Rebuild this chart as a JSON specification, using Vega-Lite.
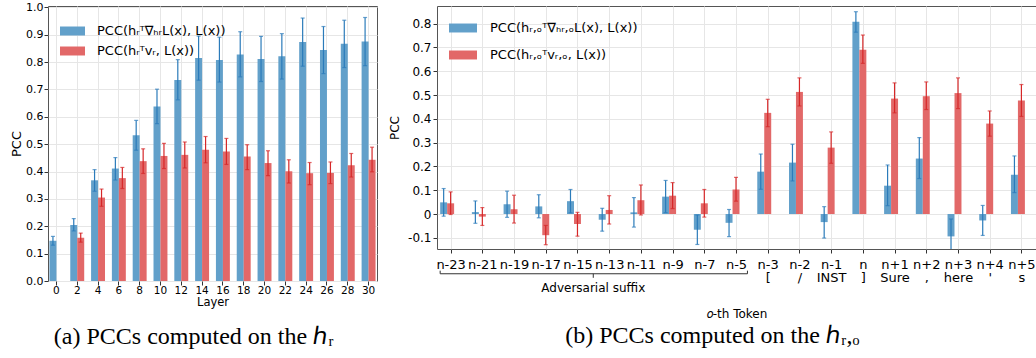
{
  "$schema": "https://vega.github.io/schema/vega-lite/v6.json",
  "padding": {"left": 10, "top": 0, "right": 0, "bottom": 0},
  "bounds": "flush",
  "spacing": 60,
  "datasets": {
    "left": [
      {"layer": 0, "series": "grad", "value": 0.147, "lo": 0.131, "hi": 0.163},
      {"layer": 2, "series": "grad", "value": 0.205, "lo": 0.183, "hi": 0.228},
      {"layer": 4, "series": "grad", "value": 0.368, "lo": 0.328, "hi": 0.407},
      {"layer": 6, "series": "grad", "value": 0.411, "lo": 0.369, "hi": 0.451},
      {"layer": 8, "series": "grad", "value": 0.533, "lo": 0.478, "hi": 0.587},
      {"layer": 10, "series": "grad", "value": 0.638, "lo": 0.575, "hi": 0.701},
      {"layer": 12, "series": "grad", "value": 0.735, "lo": 0.662, "hi": 0.809},
      {"layer": 14, "series": "grad", "value": 0.815, "lo": 0.734, "hi": 0.895},
      {"layer": 16, "series": "grad", "value": 0.808, "lo": 0.727, "hi": 0.891},
      {"layer": 18, "series": "grad", "value": 0.828, "lo": 0.746, "hi": 0.911},
      {"layer": 20, "series": "grad", "value": 0.811, "lo": 0.729, "hi": 0.894},
      {"layer": 22, "series": "grad", "value": 0.821, "lo": 0.738, "hi": 0.904},
      {"layer": 24, "series": "grad", "value": 0.873, "lo": 0.785, "hi": 0.961},
      {"layer": 26, "series": "grad", "value": 0.844, "lo": 0.758, "hi": 0.930},
      {"layer": 28, "series": "grad", "value": 0.867, "lo": 0.780, "hi": 0.953},
      {"layer": 30, "series": "grad", "value": 0.875, "lo": 0.787, "hi": 0.963},
      {"layer": 2, "series": "v", "value": 0.158, "lo": 0.142, "hi": 0.175},
      {"layer": 4, "series": "v", "value": 0.305, "lo": 0.273, "hi": 0.336},
      {"layer": 6, "series": "v", "value": 0.376, "lo": 0.338, "hi": 0.415},
      {"layer": 8, "series": "v", "value": 0.438, "lo": 0.393, "hi": 0.483},
      {"layer": 10, "series": "v", "value": 0.457, "lo": 0.411, "hi": 0.503},
      {"layer": 12, "series": "v", "value": 0.461, "lo": 0.413, "hi": 0.508},
      {"layer": 14, "series": "v", "value": 0.480, "lo": 0.432, "hi": 0.528},
      {"layer": 16, "series": "v", "value": 0.473, "lo": 0.426, "hi": 0.521},
      {"layer": 18, "series": "v", "value": 0.455, "lo": 0.407, "hi": 0.498},
      {"layer": 20, "series": "v", "value": 0.431, "lo": 0.385, "hi": 0.476},
      {"layer": 22, "series": "v", "value": 0.401, "lo": 0.358, "hi": 0.443},
      {"layer": 24, "series": "v", "value": 0.394, "lo": 0.352, "hi": 0.433},
      {"layer": 26, "series": "v", "value": 0.395, "lo": 0.356, "hi": 0.435},
      {"layer": 28, "series": "v", "value": 0.423, "lo": 0.380, "hi": 0.466},
      {"layer": 30, "series": "v", "value": 0.443, "lo": 0.399, "hi": 0.489}
    ],
    "right": [
      {"token": "n-23", "series": "grad", "value": 0.049, "lo": -0.009, "hi": 0.107},
      {"token": "n-21", "series": "grad", "value": 0.008, "lo": -0.039, "hi": 0.055},
      {"token": "n-19", "series": "grad", "value": 0.041, "lo": -0.014, "hi": 0.096},
      {"token": "n-17", "series": "grad", "value": 0.032, "lo": -0.016, "hi": 0.081},
      {"token": "n-15", "series": "grad", "value": 0.054, "lo": 0.005, "hi": 0.103},
      {"token": "n-13", "series": "grad", "value": -0.024, "lo": -0.072, "hi": 0.024},
      {"token": "n-11", "series": "grad", "value": 0.007, "lo": -0.055, "hi": 0.069},
      {"token": "n-9", "series": "grad", "value": 0.073, "lo": 0.006, "hi": 0.141},
      {"token": "n-7", "series": "grad", "value": -0.066, "lo": -0.128, "hi": -0.004},
      {"token": "n-5", "series": "grad", "value": -0.037, "lo": -0.095, "hi": 0.019},
      {"token": "n-3 [", "series": "grad", "value": 0.178, "lo": 0.104, "hi": 0.252},
      {"token": "n-2 /", "series": "grad", "value": 0.216, "lo": 0.139, "hi": 0.293},
      {"token": "n-1 INST", "series": "grad", "value": -0.034, "lo": -0.101, "hi": 0.031},
      {"token": "n ]", "series": "grad", "value": 0.808, "lo": 0.764, "hi": 0.850},
      {"token": "n+1 Sure", "series": "grad", "value": 0.119, "lo": 0.035, "hi": 0.206},
      {"token": "n+2 ,", "series": "grad", "value": 0.233, "lo": 0.149, "hi": 0.321},
      {"token": "n+3 here", "series": "grad", "value": -0.094, "lo": -0.167, "hi": -0.021},
      {"token": "n+4 '", "series": "grad", "value": -0.027, "lo": -0.090, "hi": 0.036},
      {"token": "n+5 s", "series": "grad", "value": 0.165, "lo": 0.090, "hi": 0.244},
      {"token": "n-23", "series": "v", "value": 0.045, "lo": -0.002, "hi": 0.093},
      {"token": "n-21", "series": "v", "value": -0.011, "lo": -0.048, "hi": 0.027},
      {"token": "n-19", "series": "v", "value": 0.020, "lo": -0.038, "hi": 0.079},
      {"token": "n-17", "series": "v", "value": -0.089, "lo": -0.129, "hi": -0.048},
      {"token": "n-15", "series": "v", "value": -0.042, "lo": -0.093, "hi": 0.007},
      {"token": "n-13", "series": "v", "value": 0.017, "lo": -0.042, "hi": 0.077},
      {"token": "n-11", "series": "v", "value": 0.058, "lo": -0.004, "hi": 0.122},
      {"token": "n-9", "series": "v", "value": 0.077, "lo": 0.023, "hi": 0.132},
      {"token": "n-7", "series": "v", "value": 0.045, "lo": -0.013, "hi": 0.103},
      {"token": "n-5", "series": "v", "value": 0.103, "lo": 0.054, "hi": 0.154},
      {"token": "n-3 [", "series": "v", "value": 0.425, "lo": 0.367, "hi": 0.482},
      {"token": "n-2 /", "series": "v", "value": 0.513, "lo": 0.454, "hi": 0.572},
      {"token": "n-1 INST", "series": "v", "value": 0.279, "lo": 0.213, "hi": 0.345},
      {"token": "n ]", "series": "v", "value": 0.690, "lo": 0.633, "hi": 0.752},
      {"token": "n+1 Sure", "series": "v", "value": 0.485, "lo": 0.425, "hi": 0.551},
      {"token": "n+2 ,", "series": "v", "value": 0.495, "lo": 0.439, "hi": 0.555},
      {"token": "n+3 here", "series": "v", "value": 0.508, "lo": 0.443, "hi": 0.572},
      {"token": "n+4 '", "series": "v", "value": 0.380, "lo": 0.327, "hi": 0.433},
      {"token": "n+5 s", "series": "v", "value": 0.477, "lo": 0.410, "hi": 0.544}
    ],
    "groups": [
      {"start": "n-23", "end": "n-5", "mid": "n-15", "name": "Adversarial suffix"}
    ]
  },
  "hconcat": [
    {
      "width": 329,
      "height": 275,
      "data": {"name": "left"},
      "title": {"text": "(a) PCCs computed on the ℎᵣ", "orient": "bottom", "anchor": "middle", "frame": "bounds", "font": "Liberation Serif", "fontSize": 24, "fontWeight": "normal", "color": "#000", "offset": 17},
      "layer": [
        {
          "mark": {"type": "bar"},
          "encoding": {
            "x": {"field": "layer", "type": "ordinal", "title": "Layer",
                  "scale": {"paddingInner": 0.33, "paddingOuter": 0.07},
                  "axis": {"labelAngle": 0, "labelFontSize": 10.5, "labelPadding": 0, "labelOverlap": false, "tickSize": 4, "grid": true, "bandPosition": 0.5, "titleFontSize": 11.5, "titlePadding": 1}},
            "xOffset": {"field": "series", "type": "nominal", "scale": {"domain": ["grad", "v"], "paddingInner": 0, "paddingOuter": 0}},
            "y": {"field": "value", "type": "quantitative", "title": "PCC",
                  "scale": {"domain": [0, 1.005], "nice": false},
                  "axis": {"values": [0, 0.1, 0.2, 0.3, 0.4, 0.5, 0.6, 0.7, 0.8, 0.9, 1.0], "tickCount": 30, "format": ".1f", "labelOverlap": false, "labelFontSize": 11, "labelPadding": 1, "tickSize": 4, "grid": true, "titleFontSize": 13, "titlePadding": 2}},
            "color": {"field": "series", "type": "nominal",
                      "scale": {"domain": ["grad", "v"], "range": ["#62a0ca", "#e26868"]},
                      "legend": {"orient": "none", "legendX": 12, "legendY": 12.5, "title": null,
                                 "symbolType": "M-1,-0.36H1V0.36H-1Z", "symbolSize": 625, "symbolStrokeWidth": 0,
                                 "labelFontSize": 13, "labelOffset": 12, "rowPadding": -5.5, "labelLimit": 400,
                                 "labelExpr": "datum.value == 'grad' ? 'PCC(hᵣᵀ∇ₕᵣL(x), L(x))' : 'PCC(hᵣᵀvᵣ, L(x))'"}}
          }
        },
        {
          "mark": {"type": "rule", "strokeWidth": 1.2},
          "encoding": {
            "x": {"field": "layer", "type": "ordinal"},
            "xOffset": {"field": "series", "type": "nominal"},
            "y": {"field": "lo", "type": "quantitative"},
            "y2": {"field": "hi"},
            "stroke": {"field": "series", "type": "nominal", "scale": {"domain": ["grad", "v"], "range": ["#2b7bba", "#d62728"]}, "legend": null}
          }
        },
        {
          "mark": {"type": "tick", "thickness": 1.2, "size": 4},
          "encoding": {
            "x": {"field": "layer", "type": "ordinal"},
            "xOffset": {"field": "series", "type": "nominal"},
            "y": {"field": "lo", "type": "quantitative"},
            "fill": {"field": "series", "type": "nominal", "scale": {"domain": ["grad", "v"], "range": ["#2b7bba", "#d62728"]}, "legend": null}
          }
        },
        {
          "mark": {"type": "tick", "thickness": 1.2, "size": 4},
          "encoding": {
            "x": {"field": "layer", "type": "ordinal"},
            "xOffset": {"field": "series", "type": "nominal"},
            "y": {"field": "hi", "type": "quantitative"},
            "fill": {"field": "series", "type": "nominal", "legend": null}
          }
        }
      ]
    },
    {
      "width": 599,
      "height": 243,
      "title": {"text": "(b) PCCs computed on the ℎᵣ,ₒ", "orient": "bottom", "anchor": "middle", "frame": "bounds", "font": "Liberation Serif", "fontSize": 24, "fontWeight": "normal", "color": "#000", "offset": 5},
      "layer": [
        {
          "data": {"name": "right"},
          "mark": {"type": "bar"},
          "encoding": {
            "x": {"field": "token", "type": "ordinal", "title": "𝑜-th Token",
                  "scale": {"domain": ["n-23", "n-21", "n-19", "n-17", "n-15", "n-13", "n-11", "n-9", "n-7", "n-5", "n-3 [", "n-2 /", "n-1 INST", "n ]", "n+1 Sure", "n+2 ,", "n+3 here", "n+4 '", "n+5 s"], "paddingInner": 0.31, "paddingOuter": 0.1},
                  "axis": {"labelAngle": 0, "labelExpr": "split(datum.label, ' ')", "labelOverlap": false, "labelFontSize": 13, "labelLineHeight": 13, "labelPadding": 5, "tickSize": 4, "grid": true, "bandPosition": 0.5, "titleFontSize": 12, "titlePadding": 24}},
            "xOffset": {"field": "series", "type": "nominal", "scale": {"domain": ["grad", "v"], "paddingInner": 0, "paddingOuter": 0}},
            "y": {"field": "value", "type": "quantitative", "title": "PCC",
                  "scale": {"domain": [-0.147, 0.874], "nice": false, "zero": false},
                  "axis": {"values": [-0.1, 0, 0.1, 0.2, 0.3, 0.4, 0.5, 0.6, 0.7, 0.8], "tickCount": 30, "labelOverlap": false, "labelExpr": "datum.value == 0 ? '0' : replace(format(datum.value, '.1f'), '−', '-')", "labelFontSize": 12, "labelPadding": 2, "tickSize": 4, "grid": true, "titleFontSize": 12, "titlePadding": 6}},
            "color": {"field": "series", "type": "nominal",
                      "scale": {"domain": ["grad", "v"], "range": ["#62a0ca", "#e26868"]},
                      "legend": {"orient": "none", "legendX": 12, "legendY": 8, "title": null,
                                 "symbolType": "M-1,-0.32H1V0.32H-1Z", "symbolSize": 784, "symbolStrokeWidth": 0,
                                 "labelFontSize": 13, "labelOffset": 13, "rowPadding": 6, "labelLimit": 400,
                                 "labelExpr": "datum.value == 'grad' ? 'PCC(hᵣ,ₒᵀ∇ₕᵣ,ₒL(x), L(x))' : 'PCC(hᵣ,ₒᵀvᵣ,ₒ, L(x))'"}}
          }
        },
        {
          "mark": {"type": "rule", "color": "#444", "strokeWidth": 1.2},
          "encoding": {"y": {"datum": 0}}
        },
        {
          "data": {"name": "right"},
          "mark": {"type": "rule", "strokeWidth": 1.2, "clip": true},
          "encoding": {
            "x": {"field": "token", "type": "ordinal"},
            "xOffset": {"field": "series", "type": "nominal"},
            "y": {"field": "lo", "type": "quantitative"},
            "y2": {"field": "hi"},
            "stroke": {"field": "series", "type": "nominal", "scale": {"domain": ["grad", "v"], "range": ["#2b7bba", "#d62728"]}, "legend": null}
          }
        },
        {
          "data": {"name": "right"},
          "mark": {"type": "tick", "thickness": 1.2, "size": 4, "clip": true},
          "encoding": {
            "x": {"field": "token", "type": "ordinal"},
            "xOffset": {"field": "series", "type": "nominal"},
            "y": {"field": "lo", "type": "quantitative"},
            "fill": {"field": "series", "type": "nominal", "scale": {"domain": ["grad", "v"], "range": ["#2b7bba", "#d62728"]}, "legend": null}
          }
        },
        {
          "data": {"name": "right"},
          "mark": {"type": "tick", "thickness": 1.2, "size": 4, "clip": true},
          "encoding": {
            "x": {"field": "token", "type": "ordinal"},
            "xOffset": {"field": "series", "type": "nominal"},
            "y": {"field": "hi", "type": "quantitative"},
            "fill": {"field": "series", "type": "nominal", "legend": null}
          }
        },
        {
          "data": {"name": "groups"},
          "mark": {"type": "rule", "clip": false, "color": "#333", "strokeWidth": 1},
          "encoding": {
            "x": {"field": "start", "type": "ordinal", "bandPosition": 0},
            "x2": {"field": "end", "bandPosition": 1},
            "y": {"datum": -0.251}
          }
        },
        {
          "data": {"name": "groups"},
          "mark": {"type": "rule", "clip": false, "color": "#333", "strokeWidth": 1},
          "encoding": {
            "x": {"field": "start", "type": "ordinal", "bandPosition": 0},
            "y": {"datum": -0.238},
            "y2": {"datum": -0.251}
          }
        },
        {
          "data": {"name": "groups"},
          "mark": {"type": "rule", "clip": false, "color": "#333", "strokeWidth": 1},
          "encoding": {
            "x": {"field": "end", "type": "ordinal", "bandPosition": 1},
            "y": {"datum": -0.238},
            "y2": {"datum": -0.251}
          }
        },
        {
          "data": {"name": "groups"},
          "mark": {"type": "rule", "clip": false, "color": "#333", "strokeWidth": 1},
          "encoding": {
            "x": {"field": "mid", "type": "ordinal", "bandPosition": 1.2},
            "y": {"datum": -0.251},
            "y2": {"datum": -0.268}
          }
        },
        {
          "data": {"name": "groups"},
          "mark": {"type": "text", "clip": false, "fontSize": 12, "color": "#000", "baseline": "middle"},
          "encoding": {
            "x": {"field": "mid", "type": "ordinal", "bandPosition": 1.2},
            "y": {"datum": -0.31},
            "text": {"field": "name"}
          }
        }
      ]
    }
  ],
  "resolve": {"scale": {"color": "independent", "stroke": "independent", "fill": "independent"}, "legend": {"color": "independent"}},
  "config": {
    "font": "DejaVu Sans",
    "view": {"stroke": "#555", "strokeWidth": 1},
    "axis": {"domain": false, "labelOverlap": false, "labelColor": "#000", "titleColor": "#000", "tickColor": "#333", "gridColor": "#e6e6e6", "titleFontWeight": "normal"},
    "legend": {"labelColor": "#000"}
  }
}
